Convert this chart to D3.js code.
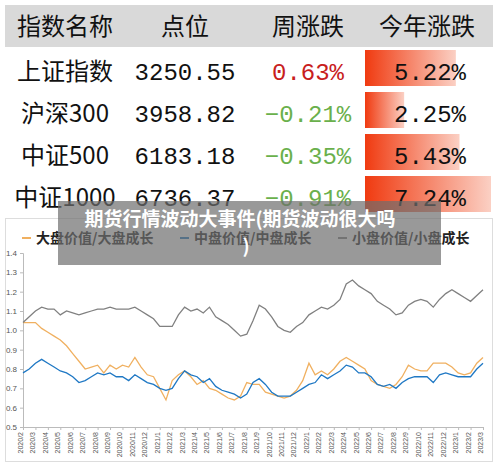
<!DOCTYPE html>
<html><head><meta charset="utf-8">
<script src="https://cdn.jsdelivr.net/npm/d3@7"></script>
<style>body{margin:0;background:#fff}</style>
</head><body>
<svg id="c" width="500" height="468"></svg>
<script>
var headers = ['指数名称', '点位', '周涨跌', '今年涨跌']
var names = ['上证指数', '沪深300', '中证500', '中证1000']
var points = ['3250.55', '3958.82', '6183.18', '6736.37']
var week = [0.63, -0.21, -0.35, -0.91]
var ytd = [5.22, 2.25, 5.43, 7.24]

var months = ['2020/2','2020/3','2020/4','2020/5','2020/6','2020/7','2020/8','2020/9','2020/10','2020/11','2020/12',
  '2021/1','2021/2','2021/3','2021/4','2021/5','2021/6','2021/7','2021/8','2021/9','2021/10','2021/11','2021/12',
  '2022/1','2022/2','2022/3','2022/4','2022/5','2022/6','2022/7','2022/8','2022/9','2022/10','2022/11','2022/12',
  '2023/1','2023/2','2023/3']
// half-month samples
var large = [1.04,1.04,1.04,1.01,0.99,0.97,0.95,0.92,0.88,0.84,0.80,0.81,0.82,0.78,0.82,0.80,0.82,0.81,0.86,0.81,0.77,0.76,
  0.70,0.64,0.74,0.77,0.79,0.76,0.72,0.74,0.70,0.69,0.67,0.65,0.64,0.66,0.73,0.72,0.72,0.68,0.67,0.66,0.65,0.66,0.69,0.74,
  0.83,0.77,0.79,0.77,0.80,0.84,0.86,0.84,0.82,0.80,0.74,0.72,0.71,0.70,0.72,0.76,0.82,0.80,0.79,0.79,0.83,0.83,0.83,0.81,
  0.78,0.77,0.78,0.83,0.86]
var mid = [0.78,0.80,0.83,0.85,0.83,0.81,0.79,0.78,0.76,0.73,0.74,0.76,0.78,0.77,0.78,0.76,0.76,0.74,0.77,0.75,0.73,0.72,
  0.70,0.69,0.70,0.75,0.79,0.77,0.76,0.73,0.75,0.71,0.69,0.68,0.67,0.65,0.67,0.73,0.75,0.72,0.68,0.66,0.66,0.66,0.68,0.70,
  0.72,0.73,0.77,0.75,0.77,0.79,0.82,0.81,0.78,0.78,0.76,0.72,0.71,0.72,0.70,0.73,0.75,0.76,0.76,0.76,0.73,0.77,0.78,0.77,
  0.76,0.76,0.76,0.80,0.83]
var small = [1.04,1.07,1.10,1.12,1.11,1.11,1.08,1.10,1.09,1.08,1.09,1.10,1.11,1.11,1.12,1.11,1.11,1.11,1.12,1.10,1.08,1.06,
  1.02,1.02,1.02,1.08,1.12,1.10,1.11,1.09,1.12,1.07,1.05,1.03,1.00,0.97,0.98,1.05,1.13,1.11,1.07,1.02,1.00,0.99,1.02,1.04,
  1.08,1.10,1.12,1.11,1.13,1.16,1.24,1.26,1.23,1.21,1.19,1.15,1.13,1.11,1.08,1.09,1.13,1.15,1.16,1.15,1.12,1.16,1.19,1.21,
  1.19,1.17,1.15,1.18,1.21]
var seriesNames = ['大盘价值/大盘成长', '中盘价值/中盘成长', '小盘价值/小盘成长']
var colors = ['#f0b060', '#1f78c4', '#808080']

var svg = d3.select('#c')
var cjk = '"Noto Sans CJK SC", sans-serif'
var num = '"Liberation Mono", monospace'

// table
svg.append('rect').attr('x', 5).attr('y', 5).attr('width', 488).attr('height', 42).attr('fill', '#d9d9d9')
var colX = [65, 185, 308, 427]
headers.forEach(function (h, i) {
  svg.append('text').attr('x', colX[i]).attr('y', 35).attr('text-anchor', 'middle')
    .style('font-family', cjk).style('font-size', '24px').attr('fill', '#111').text(h)
})
var grad = svg.append('defs').append('linearGradient').attr('id', 'g')
grad.append('stop').attr('offset', '0%').attr('stop-color', '#f03a10')
grad.append('stop').attr('offset', '100%').attr('stop-color', '#fbd0c4')
var barW = d3.scaleLinear().domain([0, 7.24]).range([0, 126])
var rowY = d3.scaleLinear().domain([0, 3]).range([71, 197])
names.forEach(function (n, i) {
  var cy = rowY(i)
  svg.append('rect').attr('x', 365).attr('y', cy - 21).attr('width', barW(ytd[i])).attr('height', 36).attr('fill', 'url(#g)')
  svg.append('text').attr('x', colX[0]).attr('y', cy + 9).attr('text-anchor', 'middle')
    .style('font-family', cjk).style('font-size', '24px').attr('fill', '#111').text(n)
  svg.append('text').attr('x', colX[1]).attr('y', cy + 9).attr('text-anchor', 'middle')
    .style('font-family', num).style('font-size', '24px').attr('fill', '#111').text(points[i])
  svg.append('text').attr('x', colX[2]).attr('y', cy + 9).attr('text-anchor', 'middle')
    .style('font-family', num).style('font-size', '24px').attr('fill', week[i] >= 0 ? '#c8201c' : '#6ab04c')
    .text(d3.format('.2f')(week[i]) + '%')
  svg.append('text').attr('x', 430).attr('y', cy + 9).attr('text-anchor', 'middle')
    .style('font-family', num).style('font-size', '24px').attr('fill', '#111').text(d3.format('.2f')(ytd[i]) + '%')
})

// chart
svg.append('rect').attr('x', 5.5).attr('y', 218.5).attr('width', 487).attr('height', 243)
  .attr('fill', '#fff').attr('stroke', '#ddd')
var x = d3.scaleLinear().domain([0, 74]).range([23, 483])
var y = d3.scaleLinear().domain([0.5, 1.4]).range([427, 253])
var g = svg.append('g')
var ya = g.append('g').attr('transform', 'translate(23,0)')
  .call(d3.axisLeft(y).tickValues(d3.range(5, 15).map(function (d) { return d / 10 })).tickFormat(d3.format('.1f')).tickSize(3))
ya.selectAll('text').style('font-size', '8px').attr('fill', '#555').style('font-family', 'Liberation Sans')
ya.selectAll('line,path').attr('stroke', '#bbb')
var xa = g.append('g').attr('transform', 'translate(0,427)')
  .call(d3.axisBottom(x).tickValues(months.map(function (m, i) { return i * 2 })).tickFormat(function (d) { return months[d / 2] }).tickSize(3))
xa.selectAll('line,path').attr('stroke', '#bbb')
xa.selectAll('text').style('font-size', '7px').attr('fill', '#555').style('font-family', 'Liberation Sans')
  .attr('text-anchor', 'end').attr('transform', 'rotate(-90)').attr('x', -5).attr('y', -3).attr('dy', '0.35em')

var line = d3.line().x(function (d, i) { return x(i) }).y(function (d) { return y(d) })
;[large, mid, small].forEach(function (s, k) {
  g.append('path').datum(s).attr('d', line).attr('fill', 'none').attr('stroke', colors[k]).attr('stroke-width', 1.3)
})
var legX = [22, 180, 338]
seriesNames.forEach(function (n, k) {
  svg.append('line').attr('x1', legX[k]).attr('x2', legX[k] + 9).attr('y1', 238).attr('y2', 238).attr('stroke', colors[k]).attr('stroke-width', 2)
  svg.append('text').attr('x', legX[k] + 14).attr('y', 243).style('font-family', cjk).style('font-size', '14px')
    .style('font-weight', 'bold').attr('fill', '#222').text(n)
})

// overlay title
svg.append('rect').attr('x', 58).attr('y', 201).attr('width', 383).attr('height', 64).attr('fill', '#6e6e6e').attr('opacity', 0.7)
svg.append('text').attr('x', 240).attr('y', 226).attr('text-anchor', 'middle').style('font-family', cjk)
  .style('font-size', '19px').style('font-weight', 'bold').attr('fill', '#fff').text('期货行情波动大事件(期货波动很大吗')
svg.append('text').attr('x', 246).attr('y', 253).attr('text-anchor', 'middle').style('font-family', cjk)
  .style('font-size', '19px').style('font-weight', 'bold').attr('fill', '#fff').text(')')
</script>
</body></html>
